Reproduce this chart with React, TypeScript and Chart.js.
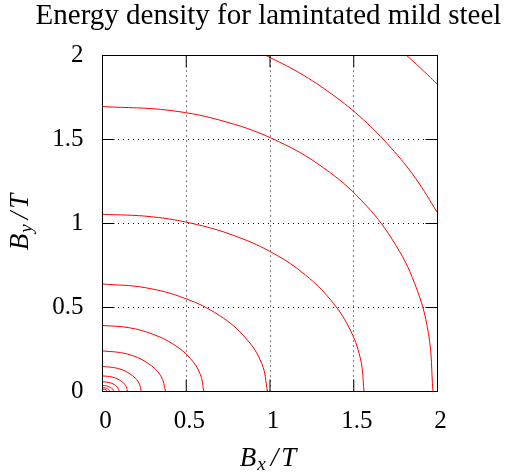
import { Chart, Plugin, registerables } from 'chart.js';
import { useEffect, useRef } from 'react';

Chart.register(...registerables);

// contour lines, outermost first, as [Bx, By] in tesla
const contour1: [number, number][] = [[1.816, 2], [1.873, 1.949], [1.942, 1.884], [2, 1.827]];
const contour2: [number, number][] = [[0.977, 2], [1.175, 1.897], [1.373, 1.767], [1.556, 1.619], [1.721, 1.452], [1.869, 1.269], [2, 1.064]];
const contour3: [number, number][] = [[0, 1.696], [0.402, 1.673], [0.744, 1.603], [1.051, 1.488], [1.32, 1.331], [1.548, 1.135], [1.731, 0.903], [1.865, 0.64], [1.946, 0.345], [1.973, 0]];
const contour4: [number, number][] = [[0, 1.055], [0.295, 1.04], [0.562, 0.994], [0.807, 0.92], [1.026, 0.819], [1.212, 0.693], [1.362, 0.545], [1.472, 0.38], [1.539, 0.199], [1.562, 0]];
const contour5: [number, number][] = [[0, 0.64], [0.255, 0.618], [0.493, 0.554], [0.697, 0.453], [0.853, 0.32], [0.951, 0.166], [0.985, 0]];
const contour6: [number, number][] = [[0, 0.393], [0.157, 0.38], [0.303, 0.34], [0.428, 0.278], [0.524, 0.197], [0.584, 0.102], [0.605, 0]];
const contour7: [number, number][] = [[0, 0.242], [0.144, 0.224], [0.267, 0.171], [0.348, 0.093], [0.377, 0]];
const contour8: [number, number][] = [[0, 0.149], [0.089, 0.138], [0.164, 0.105], [0.214, 0.057], [0.232, 0]];
const contour9: [number, number][] = [[0, 0.093], [0.057, 0.086], [0.105, 0.066], [0.138, 0.036], [0.149, 0]];
const contour10: [number, number][] = [[0, 0.058], [0.038, 0.054], [0.071, 0.041], [0.092, 0.022], [0.1, 0]];
const contour11: [number, number][] = [[0, 0.036], [0.025, 0.033], [0.047, 0.025], [0.061, 0.014], [0.066, 0]];
const contour12: [number, number][] = [[0, 0.023], [0.016, 0.021], [0.03, 0.016], [0.04, 0.009], [0.043, 0]];
const contour13: [number, number][] = [[0, 0.014], [0.011, 0.013], [0.02, 0.01], [0.026, 0.005], [0.028, 0]];

const contours = [contour1, contour2, contour3, contour4, contour5, contour6, contour7,
    contour8, contour9, contour10, contour11, contour12, contour13];

const titleText = 'Energy density for lamintated mild steel';
const xLabelSub = 'x';
const yLabelSub = 'y';
const axisMin = 0;
const axisMax = 2;
const tickStep = 0.5;

const SERIF = '"Liberation Serif", "Times New Roman", serif';

function drawMathLabel(ctx: CanvasRenderingContext2D, cx: number, baseline: number, sub: string) {
    const big = `italic 27px ${SERIF}`;
    const small = `italic 19px ${SERIF}`;
    ctx.font = big;
    const wB = ctx.measureText('B').width;
    const wSlash = ctx.measureText('/').width;
    const wT = ctx.measureText('T').width;
    ctx.font = small;
    const wSub = ctx.measureText(sub).width;
    const gap = 3;
    const total = wB + wSub + wSlash + wT + gap * 3;
    let x = cx - total / 2;
    ctx.textAlign = 'left';
    ctx.textBaseline = 'alphabetic';
    ctx.font = big;
    ctx.fillText('B', x, baseline);
    x += wB + 1;
    ctx.font = small;
    ctx.fillText(sub, x, baseline + 4);
    x += wSub + gap + 2;
    ctx.font = big;
    ctx.fillText('/', x, baseline);
    x += wSlash + gap;
    ctx.fillText('T', x, baseline);
}

const frame: Plugin = {
    id: 'frame',
    afterDraw(chart) {
        const { ctx, chartArea: a } = chart;
        const xs = chart.scales.x;
        const ys = chart.scales.y;
        const tickLen = 12;
        ctx.save();
        ctx.setLineDash([]);
        ctx.strokeStyle = '#000';
        ctx.lineWidth = 1;
        ctx.beginPath();
        xs.ticks.forEach(t => {
            const px = xs.getPixelForValue(t.value);
            ctx.moveTo(px, a.bottom);
            ctx.lineTo(px, a.bottom - tickLen);
            ctx.moveTo(px, a.top);
            ctx.lineTo(px, a.top + tickLen);
        });
        ys.ticks.forEach(t => {
            const py = ys.getPixelForValue(t.value);
            ctx.moveTo(a.left, py);
            ctx.lineTo(a.left + tickLen, py);
            ctx.moveTo(a.right, py);
            ctx.lineTo(a.right - tickLen, py);
        });
        ctx.stroke();
        ctx.strokeRect(a.left, a.top, a.right - a.left, a.bottom - a.top);

        ctx.fillStyle = '#000';
        ctx.font = `29px ${SERIF}`;
        ctx.textAlign = 'center';
        ctx.textBaseline = 'alphabetic';
        ctx.fillText(titleText, 268.5, 24);

        drawMathLabel(ctx, 268, 466, xLabelSub);
        ctx.translate(28, 222);
        ctx.rotate(-Math.PI / 2);
        drawMathLabel(ctx, 0, 0, yLabelSub);
        ctx.restore();
    }
};

export default function App() {
    const chartEl = useRef<HTMLCanvasElement>(null);

    useEffect(() => {
        const axisFont = { family: SERIF, size: 25 };
        const dottedGrid = { color: '#000', lineWidth: 1, drawTicks: false };
        const tickText = (v: string | number) => String(Number(v));
        const chart = new Chart(chartEl.current as HTMLCanvasElement, {
            type: 'scatter',
            data: {
                datasets: contours.map((c, i) => ({
                    label: `level ${i + 1}`,
                    data: c.map(([x, y]) => ({ x, y })),
                    showLine: true,
                    borderColor: '#ff0000',
                    borderWidth: 1,
                    pointRadius: 0,
                    tension: 0.4,
                    fill: false,
                }))
            },
            options: {
                animation: false,
                responsive: false,
                events: [],
                layout: { padding: { left: 0, top: 55.5, right: 67.5, bottom: 0 } },
                plugins: {
                    legend: { display: false },
                    tooltip: { enabled: false },
                    title: { display: false },
                },
                scales: {
                    x: {
                        type: 'linear',
                        min: axisMin,
                        max: axisMax,
                        ticks: { stepSize: tickStep, font: axisFont, color: '#000', padding: 15, labelOffset: 3, maxRotation: 0, callback: tickText },
                        grid: dottedGrid,
                        border: { display: false, dash: [1, 4] },
                        afterFit: (s) => { s.height = 81.5; },
                    },
                    y: {
                        type: 'linear',
                        min: axisMin,
                        max: axisMax,
                        ticks: { stepSize: tickStep, font: axisFont, color: '#000', padding: 19, callback: tickText },
                        grid: dottedGrid,
                        border: { display: false, dash: [1, 4] },
                        afterFit: (s) => { s.width = 102.5; },
                    },
                },
            },
            plugins: [frame],
        });

        return () => {
            chart.destroy();
        };
    }, []);

    return (<div style={{ position: 'absolute', left: 0, top: 0, width: 505, height: 473, background: '#fff' }}>
        <canvas ref={chartEl} width={505} height={473} style={{ display: 'block' }}></canvas>
    </div>);
}
